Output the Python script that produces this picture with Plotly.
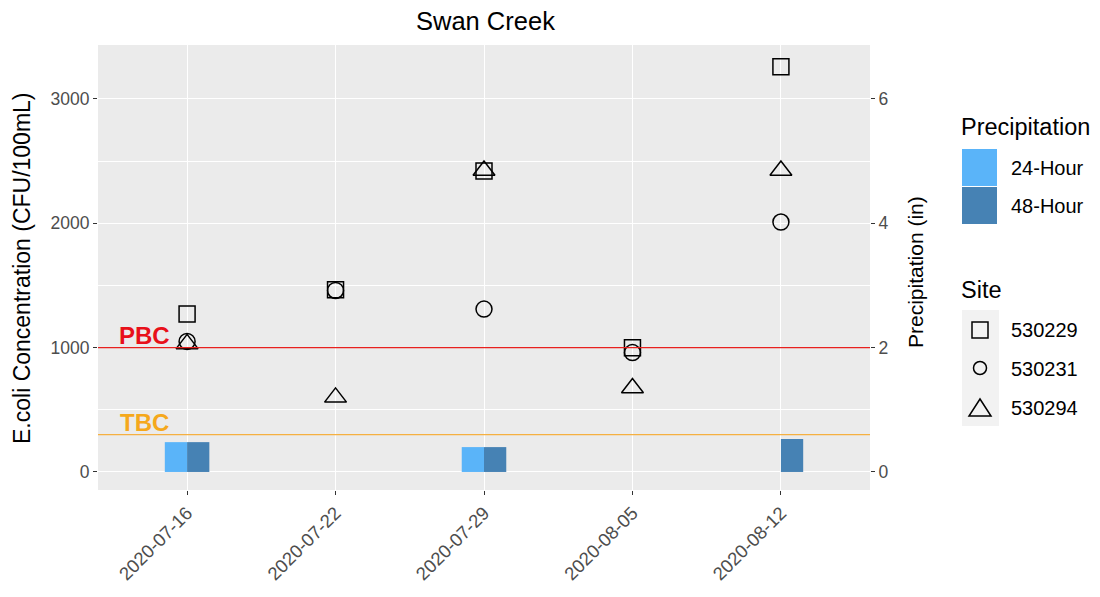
import plotly.graph_objects as go

# ---------------- data ----------------
dates = ["2020-07-16", "2020-07-22", "2020-07-29", "2020-08-05", "2020-08-12"]
x_pos = [1, 2, 3, 4, 5]

site_530229 = [1270, 1465, 2420, 1000, 3260]
site_530231 = [1050, 1460, 1310, 960, 2010]
site_530294 = [1030, 600, 2425, 675, 2425]

precip_24h = [0.48, 0.0, 0.40, 0.0, 0.0]
precip_48h = [0.48, 0.0, 0.40, 0.0, 0.53]

PBC = 1000
TBC = 300

left_ticks = [0, 1000, 2000, 3000]
right_ticks = [0, 2, 4, 6]

# ---------------- style / layout ----------------
OFF = 8                                  # page body margin in the browser
W, H = 1092, 581
PL, PR, PT, PB = 98 - OFF, 870 - OFF, 45 - OFF, 490 - OFF   # panel box in figure pixels
y_range = [-145, 3434]
in_per_cfu = 1 / 500.0

FONT = "Liberation Sans, Arial, sans-serif"
GRAY_TXT = "#4D4D4D"
C24 = "#5AB4F9"
C48 = "#4682B4"


def px(xw):
    """window x pixel -> paper x"""
    return (xw - OFF - PL) / (PR - PL)


def py(yw):
    """window y pixel -> paper y"""
    return (PB - (yw - OFF)) / (PB - PT)


fig = go.Figure()

fig.add_trace(go.Bar(x=x_pos, y=precip_24h, name="24-Hour", marker=dict(color=C24, line=dict(width=0)),
                     yaxis="y2", width=0.15, offset=-0.15, showlegend=False))
fig.add_trace(go.Bar(x=x_pos, y=precip_48h, name="48-Hour", marker=dict(color=C48, line=dict(width=0)),
                     yaxis="y2", width=0.15, offset=0.0, showlegend=False))

sites = [("530229", site_530229, "square-open", 16),
         ("530231", site_530231, "circle-open", 16),
         ("530294", site_530294, "triangle-up-open", 19)]
for name, vals, sym, sz in sites:
    fig.add_trace(go.Scatter(x=x_pos, y=vals, mode="markers", name=name, showlegend=False,
                             marker=dict(symbol=sym, size=sz, color="black",
                                         line=dict(width=1.5, color="black"))))

fig.add_hline(y=PBC, line=dict(color="#E8201E", width=1.4), layer="above")
fig.add_hline(y=TBC, line=dict(color="#F5B041", width=1.4), layer="above")

fig.add_annotation(x=0.71, y=1100, xref="x", yref="y", text="<b>PBC</b>", showarrow=False,
                   font=dict(color="#E8101A", size=24, family=FONT))
fig.add_annotation(x=0.71, y=395, xref="x", yref="y", text="<b>TBC</b>", showarrow=False,
                   font=dict(color="#F5A81C", size=24, family=FONT))

# ---------------- custom ggplot-like legends ----------------
shapes = []
annos = []


def label(xw, yw, text, size, color="black"):
    annos.append(dict(x=px(xw), y=py(yw), xref="paper", yref="paper", text=text, showarrow=False,
                      xanchor="left", yanchor="middle", font=dict(size=size, color=color, family=FONT)))


# Precipitation legend
label(959, 127, "Precipitation", 23.5)
for i, (nm, col) in enumerate([("24-Hour", C24), ("48-Hour", C48)]):
    top = 149 + i * 38
    shapes.append(dict(type="rect", xref="paper", yref="paper", x0=px(962), x1=px(997),
                       y0=py(top + 37), y1=py(top), fillcolor=col, line=dict(width=0)))
    label(1009, top + 19, nm, 20)

# Site legend
label(959, 290, "Site", 23.5)
shapes.append(dict(type="rect", xref="paper", yref="paper", x0=px(962), x1=px(999),
                   y0=py(426), y1=py(310), fillcolor="#F2F2F2", line=dict(width=0)))
cx = 980
sym_line = dict(color="black", width=1.5)
shapes.append(dict(type="rect", xref="paper", yref="paper", x0=px(cx - 8), x1=px(cx + 8),
                   y0=py(330 + 8), y1=py(330 - 8), line=sym_line))
shapes.append(dict(type="circle", xref="paper", yref="paper", x0=px(cx - 6.5), x1=px(cx + 6.5),
                   y0=py(368 + 6.5), y1=py(368 - 6.5), line=sym_line))
tri = "M {:.5f} {:.5f} L {:.5f} {:.5f} L {:.5f} {:.5f} Z".format(
    px(cx), py(399), px(cx - 11), py(416), px(cx + 11), py(416))
shapes.append(dict(type="path", xref="paper", yref="paper", path=tri, line=sym_line))
for i, nm in enumerate(["530229", "530231", "530294"]):
    label(1009, 330 + i * 39, nm, 20)

# axis titles and main title
annos.append(dict(x=px(22), y=py(268), xref="paper", yref="paper", text="E.coli Concentration (CFU/100mL)",
                  textangle=-90, showarrow=False, xanchor="center", yanchor="middle",
                  font=dict(size=23, color="black", family=FONT)))
annos.append(dict(x=px(915), y=py(272), xref="paper", yref="paper", text="Precipitation (in)",
                  textangle=-90, showarrow=False, xanchor="center", yanchor="middle",
                  font=dict(size=21, color="black", family=FONT)))
annos.append(dict(x=px(485), y=py(21), xref="paper", yref="paper", text="Swan Creek",
                  showarrow=False, xanchor="center", yanchor="middle",
                  font=dict(size=25.5, color="black", family=FONT)))

for a in annos:
    fig.add_annotation(**a)
for s in shapes:
    fig.add_shape(**s)

fig.update_layout(
    width=W, height=H,
    margin=dict(l=PL, r=W - PR, t=PT, b=H - PB, autoexpand=False),
    paper_bgcolor="white", plot_bgcolor="#EBEBEB",
    font=dict(family=FONT, color="black"),
    showlegend=False,
    barmode="overlay",
    xaxis=dict(range=[0.4, 5.6], tickvals=x_pos, ticktext=dates, tickangle=-45, automargin=False,
               showgrid=True, gridcolor="white", gridwidth=1.3, zeroline=False,
               ticks="outside", ticklen=4, tickcolor="#333333",
               tickfont=dict(size=18.5, color=GRAY_TXT)),
    yaxis=dict(range=y_range, tickvals=left_ticks, automargin=False,
               showgrid=True, gridcolor="white", gridwidth=1.3, zeroline=False,
               minor=dict(tickvals=[500, 1500, 2500], showgrid=True, gridcolor="white", gridwidth=0.6),
               ticks="outside", ticklen=4, tickcolor="#333333",
               tickfont=dict(size=17.5, color=GRAY_TXT)),
    yaxis2=dict(overlaying="y", side="right", automargin=False,
                range=[y_range[0] * in_per_cfu, y_range[1] * in_per_cfu], tickvals=right_ticks,
                showgrid=False, zeroline=False,
                ticks="outside", ticklen=4, tickcolor="#333333",
                tickfont=dict(size=17.5, color=GRAY_TXT)),
)

fig.write_html("out.html")
